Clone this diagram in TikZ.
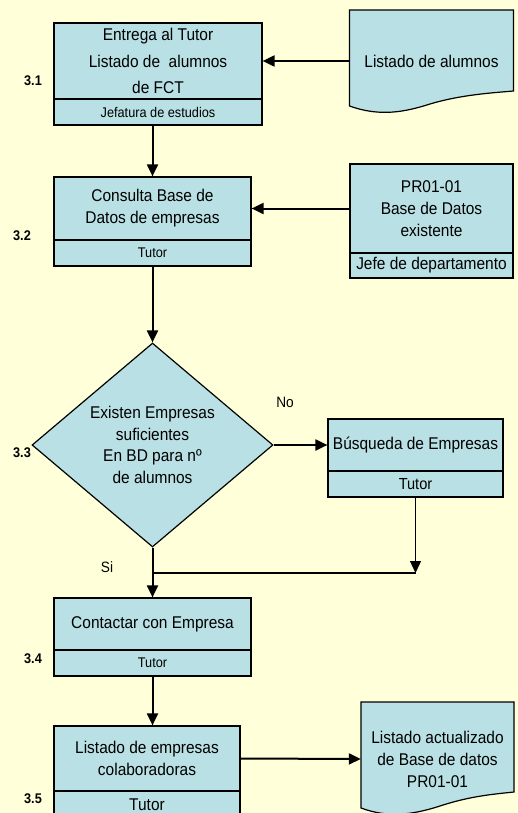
\documentclass[tikz,border=0pt]{standalone}
\usepackage{fontspec}
\setmainfont{Liberation Sans}[FakeStretch=0.91]
\usetikzlibrary{arrows.meta,shapes.geometric}
\definecolor{bgyellow}{RGB}{255,255,217}
\definecolor{boxblue}{RGB}{185,224,228}
\newcommand\fmain{\fontsize{17}{22}\selectfont}
\newcommand\fbig{\fontsize{17}{26.5}\selectfont}
\newcommand\fsub{\fontsize{14}{16}\selectfont}
\newcommand\flab{\fontsize{14}{16}\selectfont\bfseries}
\newcommand\fyn{\fontsize{15}{17}\selectfont}
\tikzset{
  x=1pt, y=-1pt,
  boxpart/.style={draw=black, line width=1.2pt, fill=boxblue, inner sep=0pt, align=center, font=\fmain},
  subpart/.style={boxpart, font=\fsub},
  docshape/.style={draw=black, line width=1.2pt, fill=boxblue},
  doctext/.style={inner sep=0pt, align=center, font=\fmain},
  steplabel/.style={inner sep=0pt, font=\flab},
  yesno/.style={inner sep=0pt, font=\fyn},
  flow/.style={line width=2pt, -{Triangle[length=12pt,width=11pt]}},
  thinflow/.style={line width=1.2pt, -{Triangle[length=12pt,width=11pt]}},
  thinline/.style={line width=1.2pt},
}
\begin{document}
\begin{tikzpicture}
\useasboundingbox (0,0) rectangle (518,813);
\clip (0,0) rectangle (518,813);
\fill[bgyellow] (0,0) rectangle (518,813);

% 3.1
\node[boxpart, font=\fbig, minimum width=208pt, minimum height=76pt] (m31) at (158,61) {Entrega al Tutor\\Listado de~ alumnos\\de FCT};
\node[subpart, minimum width=208pt, minimum height=26pt] (s31) at (158,112) {Jefatura de estudios};
\node[steplabel] (l31) at (33,81) {3.1};

% document: Listado de alumnos
\path[docshape] (349.5,10) -- (513.5,10) -- (513.5,91)
  .. controls (490,93) and (460,95) .. (430,104)
  .. controls (405,112) and (380,117) .. (349.5,106) -- cycle;
\node[doctext, minimum width=164pt, minimum height=102pt] (doc1) at (431.5,61) {Listado de alumnos};

% 3.2
\node[boxpart, minimum width=197pt, minimum height=63pt] (m32) at (152.5,208.5) {Consulta Base de\\Datos de empresas};
\node[subpart, minimum width=197pt, minimum height=26pt] (s32) at (152.5,253) {Tutor};
\node[steplabel] (l32) at (22,236) {3.2};

% PR01-01
\node[boxpart, minimum width=163pt, minimum height=89pt] (mpr) at (431.5,208.5) {PR01-01\\Base de Datos\\existente};
\node[boxpart, minimum width=163pt, minimum height=25pt] (spr) at (431.5,265.5) {Jefe de departamento};

% 3.3 diamond
\node[diamond, draw=black, line width=1.2pt, fill=boxblue, inner sep=0pt, aspect=1.18,
      minimum width=241pt, minimum height=204pt, align=center, font=\fontsize{17}{21.7}\selectfont] (d33) at (152.5,445)
      {Existen Empresas\\suficientes\\En BD para nº\\de alumnos};
\node[steplabel] (l33) at (22,453) {3.3};
\node[yesno] (no) at (285,402) {No};
\node[yesno] (si) at (107,567) {Si};

% Busqueda
\node[boxpart, minimum width=175pt, minimum height=52pt] (mbus) at (415.5,445) {Búsqueda de Empresas};
\node[subpart, font=\fontsize{16}{18}\selectfont, minimum width=175pt, minimum height=26pt] (sbus) at (415.5,484) {Tutor};

% 3.4
\node[boxpart, minimum width=197pt, minimum height=52pt] (m34) at (152.5,624) {Contactar con Empresa};
\node[subpart, minimum width=197pt, minimum height=26pt] (s34) at (152.5,663) {Tutor};
\node[steplabel] (l34) at (33,659) {3.4};

% 3.5
\node[boxpart, minimum width=186pt, minimum height=65pt] (m35) at (147,758.5) {Listado de empresas\\colaboradoras};
\node[boxpart, minimum width=186pt, minimum height=27pt] (s35) at (147,804.5) {Tutor};
\node[steplabel] (l35) at (33,799) {3.5};

% document: Listado actualizado
\path[docshape] (361,702) -- (514,702) -- (514,792)
  .. controls (495,794) and (470,796) .. (440,806)
  .. controls (412,815) and (388,818) .. (361,808) -- cycle;
\node[doctext, minimum width=153pt, minimum height=114pt] (doc2) at (437.5,759) {Listado actualizado\\de Base de datos\\PR01-01};

% connectors
\coordinate (jn) at (152.5,573);
\coordinate (a31) at (s31.south -| m32.north);
\coordinate (a34) at (s34.south);
\coordinate (t35) at (a34 |- m35.north);
\coordinate (jb) at (sbus.south |- jn);
\draw[flow] (doc1.west) -- (m31.east);
\draw[flow] (a31) -- (m32.north);
\draw[flow] (mpr.west) -- (m32.east);
\draw[flow] (s32.south) -- (d33.north);
\draw[flow] (d33.east) -- (mbus.west);
\draw[thinflow] (sbus.south) -- (jb);
\draw[thinline] (jb) -- (jn);
\draw[flow] (d33.south) -- (m34.north);
\draw[flow] (a34) -- (t35);
\draw[flow] (m35.east) -- (doc2.west);
\end{tikzpicture}
\end{document}
